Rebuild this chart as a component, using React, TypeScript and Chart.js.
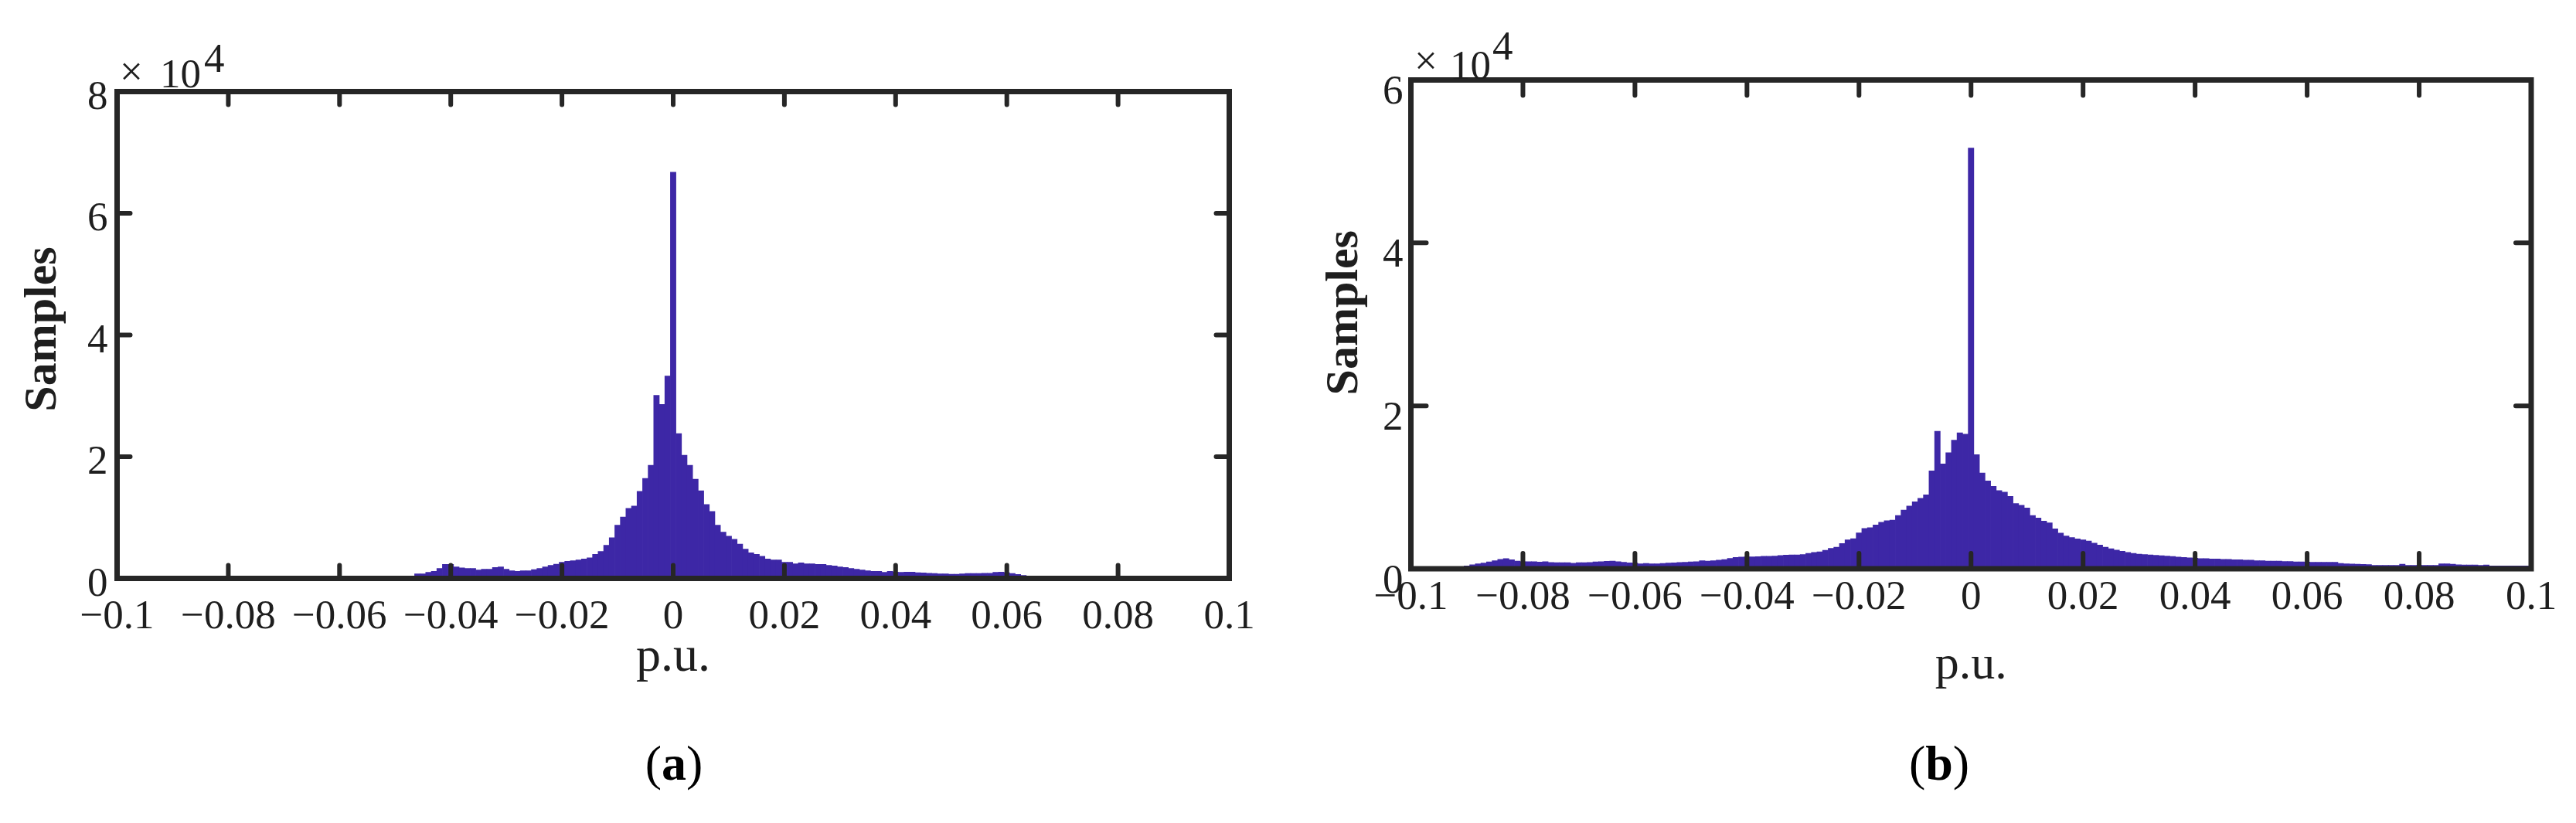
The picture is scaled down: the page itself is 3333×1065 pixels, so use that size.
import React, { useEffect, useRef } from 'react';
import { Chart, registerables } from 'chart.js';

Chart.register(...registerables);

// ---------- data ----------
const BIN_WIDTH = 0.001; // histogram bin width (p.u.)

const xTickValues = [-0.1, -0.08, -0.06, -0.04, -0.02, 0, 0.02, 0.04, 0.06, 0.08, 0.1];
const xTickLabels = ['\u22120.1', '\u22120.08', '\u22120.06', '\u22120.04', '\u22120.02', '0', '0.02', '0.04', '0.06', '0.08', '0.1'];

const yTickValuesA = [0, 20000, 40000, 60000, 80000];
const yTickLabelsA = ['0', '2', '4', '6', '8'];
const yTickValuesB = [0, 20000, 40000, 60000];
const yTickLabelsB = ['0', '2', '4', '6'];

// panel (a): first bin index (in units of BIN_WIDTH) and counts
const firstBinA = -46;
const countsA = [
  750, 750, 1000, 1150, 1650, 2300, 2300, 1900, 1750, 1650,
  1650, 1400, 1500, 1500, 1800, 1900, 1500, 1250, 1150, 1250,
  1250, 1450, 1650, 1900, 2150, 2350, 2650, 2800, 2900, 3050,
  3200, 3400, 3950, 4450, 5450, 6700, 8750, 10100, 11500, 11900,
  14300, 16450, 18600, 30100, 28600, 33250,
  66750,
  23800, 20250, 18600, 16300, 14400, 12150, 11000, 8750, 7600, 6950,
  6450, 5650, 4800, 4200, 3950, 3650, 3200, 3050, 3050, 2650,
  2650, 2400, 2550, 2400, 2400, 2300, 2300, 2150, 2050, 1900,
  1800, 1650, 1500, 1400, 1250, 1150, 1150, 1000, 1150, 1050,
  1000, 1050, 1050, 950, 900, 850, 800, 750, 750, 700,
  700, 750, 800, 800, 800, 850, 850, 1000, 1050, 950,
  800, 650, 500, 400, 300,
];

// panel (b)
const firstBinB = -90;
const countsB = [
  350, 480, 600, 700, 850, 1000, 1150, 1250, 1100, 950,
  880, 880, 860, 820, 860, 780, 760, 760, 740, 680,
  740, 760, 780, 840, 880, 920, 940, 880, 800, 720,
  700, 600, 660, 600, 620, 660, 700, 720, 770, 800,
  850, 880, 1000, 950, 1000, 1050, 1120, 1270, 1380, 1450,
  1460, 1470, 1480, 1530, 1540, 1560, 1640, 1680, 1690, 1700,
  1750, 1900, 2010, 2090, 2280, 2500, 2650, 3100, 3540, 3690,
  4400, 4960, 5040, 5370, 5710, 5900, 5970, 6530, 7200, 7690,
  8210, 8660, 9070, 12010, 16870, 12870, 14250, 15780, 16680, 16530,
  51650,
  14000, 11750, 10780, 10110, 9590, 9400, 8880, 8020, 7800, 7460,
  6530, 6230, 5860, 5630, 4890, 4370, 4030, 3840, 3660, 3540,
  3400, 3150, 2900, 2650, 2450, 2300, 2150, 2000, 1900, 1800,
  1750, 1700, 1650, 1600, 1550, 1500, 1450, 1400, 1350, 1300,
  1250, 1250, 1200, 1200, 1150, 1150, 1100, 1100, 1050, 1050,
  1000, 1000, 950, 950, 950, 900, 900, 850, 850, 820,
  800, 790, 790, 790, 790, 650, 620, 580, 570, 530,
  510, 430, 410, 410, 410, 410, 560, 420, 410, 410,
  410, 410, 420, 620, 600, 560, 480, 470, 470, 460,
  410, 460, 360, 350, 350, 350, 350, 350, 350, 350,
];

// ---------- styles ----------
const BAR_COLOR = '#3d27a6';
const AXIS_COLOR = '#262626';
const TEXT_COLOR = '#1e1e1e';
const SERIF = '"Liberation Serif", "Times New Roman", serif';

type Panel = {
  id: string;
  left: number;
  width: number;
  height: number;
  firstBin: number;
  counts: number[];
  yMax: number;
  yTickValues: number[];
  yTickLabels: string[];
  plotLeft: number;
  plotRight: number;
  plotTop: number;
  plotBottom: number;
  xLabelPad: number;
  yLabelPad: number;
  yLabelOffset: number;
  yTitle: string;
  yTitlePad: number;
  xTitleSize: number;
  xTitlePad: number;
  tickLen: number;
  mult: { timesX: number; timesY: number; tenX: number; tenY: number; expX: number; expY: number };
};

const panelA: Panel = {
  id: 'a',
  left: 0,
  width: 1666,
  height: 950,
  firstBin: firstBinA,
  counts: countsA,
  yMax: 80000,
  yTickValues: yTickValuesA,
  yTickLabels: yTickLabelsA,
  plotLeft: 151.5,
  plotRight: 1590.5,
  plotTop: 118.5,
  plotBottom: 748.5,
  xLabelPad: 19,
  yLabelPad: 12,
  yLabelOffset: 8.5,
  yTitle: ' Samples',
  yTitlePad: 20,
  xTitleSize: 64,
  xTitlePad: 60,
  tickLen: 17,
  mult: { timesX: 155, timesY: 110, tenX: 207, tenY: 113, expX: 264, expY: 93 },
};

const panelB: Panel = {
  id: 'b',
  left: 1666,
  width: 1667,
  height: 950,
  firstBin: firstBinB,
  counts: countsB,
  yMax: 60000,
  yTickValues: yTickValuesB,
  yTickLabels: yTickLabelsB,
  plotLeft: 1825.5 - 1666,
  plotRight: 3275 - 1666,
  plotTop: 103.5,
  plotBottom: 736,
  xLabelPad: 6.5,
  yLabelPad: 10,
  yLabelOffset: 17,
  yTitle: '  Samples',
  yTitlePad: 38,
  xTitleSize: 62,
  xTitlePad: 51,
  tickLen: 20,
  mult: { timesX: 164, timesY: 96, tenX: 210, tenY: 102, expX: 265, expY: 77 },
};

const framePlugin = {
  id: 'matlabFrame',
  afterDatasetsDraw(chart: any, _args: any, opts: any) {
    const p: Panel = opts.panel;
    const { ctx, chartArea } = chart;
    const { left, top, right, bottom } = chartArea;
    const xs = chart.scales.x;
    const ys = chart.scales.y;
    ctx.save();
    ctx.strokeStyle = AXIS_COLOR;
    ctx.lineWidth = 6;
    ctx.lineCap = 'round';
    ctx.beginPath();
    xTickValues.slice(1, -1).forEach((v) => {
      const px = xs.getPixelForValue(v);
      ctx.moveTo(px, bottom);
      ctx.lineTo(px, bottom - p.tickLen);
      ctx.moveTo(px, top);
      ctx.lineTo(px, top + p.tickLen);
    });
    p.yTickValues.slice(1, p.yTickValues[p.yTickValues.length - 1] === p.yMax ? -1 : undefined).forEach((v) => {
      const py = ys.getPixelForValue(v);
      ctx.moveTo(left, py);
      ctx.lineTo(left + p.tickLen, py);
      ctx.moveTo(right, py);
      ctx.lineTo(right - p.tickLen, py);
    });
    ctx.stroke();
    ctx.lineWidth = 7;
    ctx.lineCap = 'butt';
    ctx.lineJoin = 'miter';
    ctx.strokeRect(left, top, right - left, bottom - top);

    // exponent multiplier  "× 10^4"
    ctx.fillStyle = TEXT_COLOR;
    ctx.textAlign = 'left';
    ctx.textBaseline = 'alphabetic';
    ctx.font = `53px ${SERIF}`;
    ctx.fillText('\u00d7', p.mult.timesX, p.mult.timesY);
    ctx.fillText('10', p.mult.tenX, p.mult.tenY);
    ctx.fillText('4', p.mult.expX, p.mult.expY);
    ctx.restore();
  },
};

function buildConfig(p: Panel): any {
  const data = p.counts.map((c, i) => ({ x: (p.firstBin + i) * BIN_WIDTH, y: c }));
  return {
    type: 'bar',
    data: {
      datasets: [
        {
          data,
          backgroundColor: BAR_COLOR,
          borderWidth: 0,
          barPercentage: 1,
          categoryPercentage: 1,
          clip: 0,
        },
      ],
    },
    options: {
      animation: false,
      responsive: false,
      devicePixelRatio: 1,
      layout: {
        padding: { top: p.plotTop, right: p.width - p.plotRight, left: 0, bottom: 0 },
      },
      plugins: {
        legend: { display: false },
        tooltip: { enabled: false },
        matlabFrame: { panel: p },
      },
      scales: {
        x: {
          type: 'linear',
          min: -0.1,
          max: 0.1,
          offset: false,
          grid: { display: false, drawTicks: false },
          border: { display: false },
          afterBuildTicks: (axis: any) => {
            axis.ticks = xTickValues.map((v) => ({ value: v }));
          },
          afterFit: (axis: any) => {
            axis.height = p.height - p.plotBottom;
          },
          ticks: {
            autoSkip: false,
            maxRotation: 0,
            minRotation: 0,
            padding: p.xLabelPad,
            color: TEXT_COLOR,
            font: { family: SERIF, size: 53 },
            callback: (_v: any, i: number) => xTickLabels[i],
          },
          title: {
            display: true,
            text: 'p.u.',
            color: TEXT_COLOR,
            font: { family: SERIF, size: p.xTitleSize },
            padding: { top: 0, bottom: p.xTitlePad },
          },
        },
        y: {
          type: 'linear',
          min: 0,
          max: p.yMax,
          grid: { display: false, drawTicks: false },
          border: { display: false },
          afterBuildTicks: (axis: any) => {
            axis.ticks = p.yTickValues.map((v) => ({ value: v }));
          },
          afterFit: (axis: any) => {
            axis.width = p.plotLeft;
          },
          ticks: {
            autoSkip: false,
            padding: p.yLabelPad,
            labelOffset: p.yLabelOffset,
            color: TEXT_COLOR,
            font: { family: SERIF, size: 53 },
            callback: (_v: any, i: number) => p.yTickLabels[i],
          },
          title: {
            display: true,
            text: p.yTitle,
            color: TEXT_COLOR,
            font: { family: SERIF, size: 60, weight: 'bold' },
            padding: { top: p.yTitlePad, bottom: 0 },
          },
        },
      },
    },
    plugins: [framePlugin],
  };
}

function HistPanel({ panel }: { panel: Panel }) {
  const ref = useRef<HTMLCanvasElement | null>(null);
  useEffect(() => {
    if (!ref.current) return;
    const chart = new Chart(ref.current, buildConfig(panel));
    return () => chart.destroy();
  }, [panel]);
  return (
    <div style={{ position: 'absolute', left: panel.left, top: 0, width: panel.width, height: panel.height }}>
      <canvas ref={ref} width={panel.width} height={panel.height} style={{ width: panel.width, height: panel.height, display: 'block' }} />
    </div>
  );
}

const captionStyle = (cx: number): React.CSSProperties => ({
  position: 'absolute',
  left: cx - 150,
  top: 956,
  width: 300,
  textAlign: 'center',
  fontFamily: SERIF,
  fontSize: 64,
  lineHeight: '64px',
  color: '#000',
});

export default function App() {
  return (
    <div style={{ position: 'absolute', left: 0, top: 0, width: 3333, height: 1065, background: '#fff', overflow: 'hidden' }}>
      <HistPanel panel={panelA} />
      <HistPanel panel={panelB} />
      <div style={captionStyle(872)}>(<b>a</b>)</div>
      <div style={captionStyle(2509)}>(<b>b</b>)</div>
    </div>
  );
}
